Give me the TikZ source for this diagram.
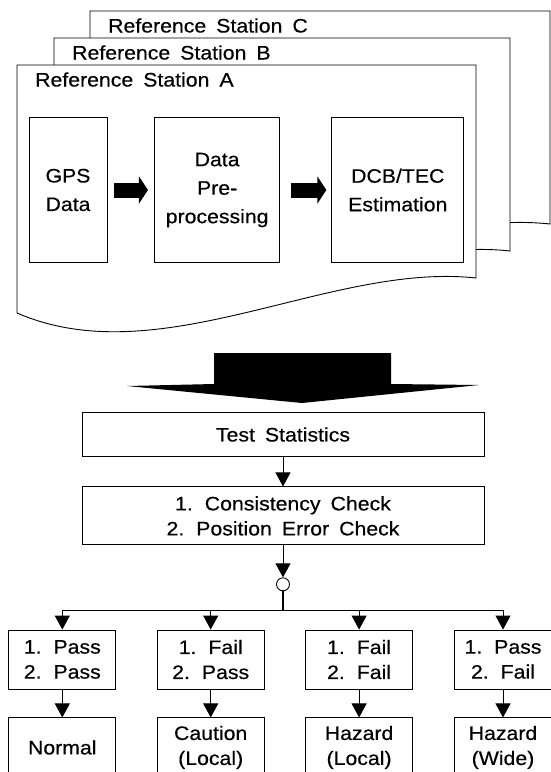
\documentclass[tikz,border=0pt]{standalone}
\usepackage{fontspec}
\setmainfont{Liberation Sans}[FakeStretch=1.09, WordSpace=1.7, FakeBold=0.4]
\usetikzlibrary{positioning, arrows.meta}

\begin{document}
\begin{tikzpicture}[
        x=1pt, y=-1pt,
        every node/.style={font=\fontsize{19.5}{25}\selectfont, align=center, inner sep=0pt},
        box/.style={draw, line width=.9pt, minimum width=107pt, minimum height=59pt},
        bigbox/.style={box, minimum height=145pt, font=\fontsize{19.5}{28.5}\selectfont},
        wide/.style={box, minimum width=402pt},
        flow/.style={-{Triangle[length=14pt, width=15pt]}, line width=.9pt},
        fat/.style={line width=15pt, -{Triangle[length=9pt, width=27pt]}}
    ]
    \useasboundingbox (0,0) rectangle (551,772);
    \clip (0,0) rectangle (551,772);

    % Stations
    \foreach \dx/\dy/\w/\st in {73/-54/460/C, 37/-27/456/B, 0/0/459/A} {
        \begin{scope}[shift={(\dx,\dy)}]
            \draw[fill=white, line width=.9pt] (17,313) -- (17,65) -- (17+\w,65) -- (17+\w,278)
                .. controls (330,262) and (160,375) .. (17,313) -- cycle;
            \node[anchor=base west] (lbl\st) at (35,86.5) {Reference Station \st};
        \end{scope}
    }

    % Nodes
    \node[bigbox, minimum width=78pt] (gps) at (68,190) {GPS\\Data};
    \node[bigbox, minimum width=125.5pt, right=46.5pt of gps] (pre) {Data\\Pre-\\processing};
    \node[bigbox, minimum width=132pt, right=51pt of pre] (dcb) {DCB/TEC\\Estimation};

    \node[wide, minimum height=44pt] (stat) at (283,434.5) {Test Statistics};
    \node[wide, minimum height=58pt, below=29.5pt of stat] (check) {1. Consistency Check\\2. Position Error Check};
    \node[draw, circle, line width=.9pt, minimum size=13pt, below=32pt of check] (hub) {};
    \coordinate (split) at (283,610);

    \node[box] (p1) at (62.3,659.5) {1. Pass\\2. Pass};
    \node[box, right=40.5pt of p1] (p2) {1. Fail\\2. Pass};
    \node[box, right=40.5pt of p2] (p3) {1. Fail\\2. Fail};
    \node[box, minimum width=98pt, right=40.5pt of p3] (p4) {1. Pass\\2. Fail};
    \node[box, below=28pt of p1] (r1) {Normal};
    \node[box, below=28pt of p2] (r2) {Caution\\(Local)};
    \node[box, below=28pt of p3] (r3) {Hazard\\(Local)};
    \node[box, minimum width=98pt, below=28pt of p4] (r4) {Hazard\\(Wide)};

    % Arrows
    \draw[fat, shorten <=6.5pt, shorten >=6pt] (gps) -- (pre);
    \draw[fat, shorten <=11pt, shorten >=5pt] (pre) -- (dcb);
    \fill (214,353) -- (391,353) -- (391,384) -- (479,385) -- (302,403) -- (127,386) -- (214,384) -- cycle;
    \draw[flow] (stat) -- (check);
    \draw[flow] (check) -- (hub);
    \draw[line width=1.4pt] (hub) -- (split);
    \draw[line width=.9pt] (p1 |- split) -- (p4 |- split);
    \foreach \i in {1,...,4} {
        \draw[flow] (p\i |- split) -- (p\i);
        \draw[flow] (p\i) -- (r\i);
    }
\end{tikzpicture}
\end{document}
